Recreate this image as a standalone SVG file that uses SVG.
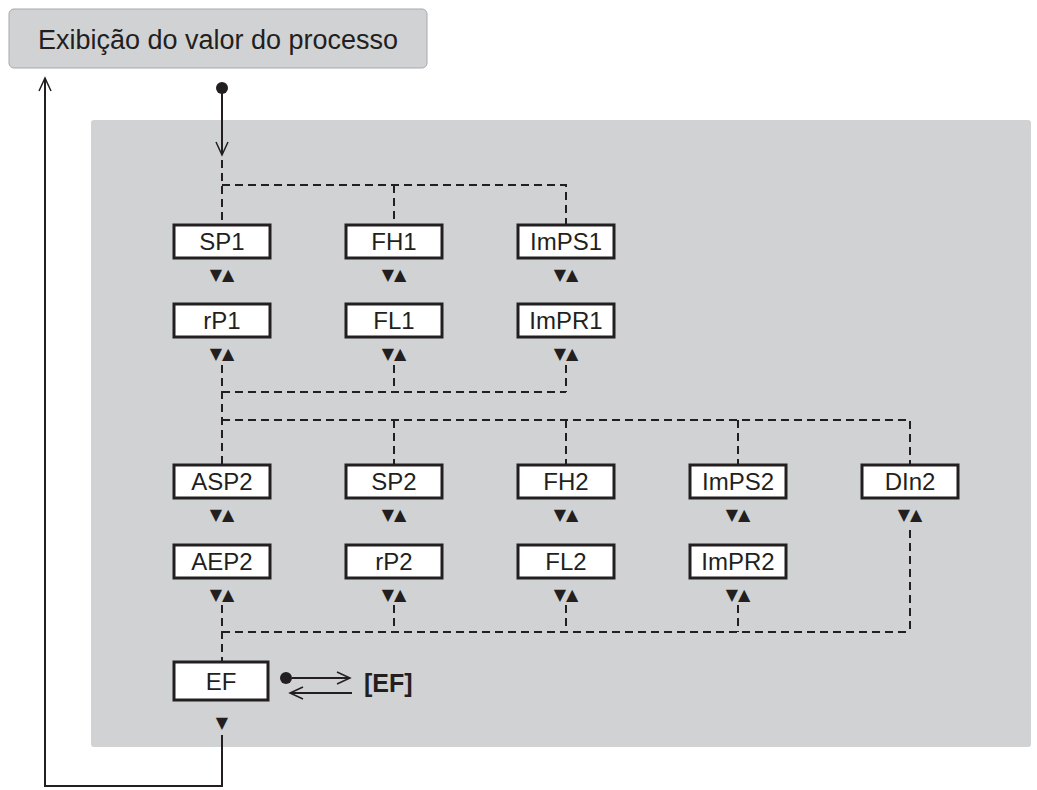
<svg xmlns="http://www.w3.org/2000/svg" width="1037" height="790" viewBox="0 0 1037 790">
<style>
.b{fill:#fff;stroke:#231f20;stroke-width:3}
.t{font-family:"Liberation Sans",Arial,sans-serif;font-size:24px;fill:#231f20;text-anchor:middle}
.d{fill:none;stroke:#231f20;stroke-width:2;stroke-dasharray:8,5}
.s{fill:none;stroke:#231f20;stroke-width:2}
.a{font-family:"DejaVu Sans",sans-serif;font-size:16px;fill:#231f20;text-anchor:middle}
</style>
<defs>
<marker id="o" markerWidth="16" markerHeight="14" refX="14" refY="7" orient="auto" markerUnits="userSpaceOnUse"><path d="M1,1 L14,7 L1,13" fill="none" stroke="#231f20" stroke-width="1.5"/></marker>
</defs>
<rect x="9" y="9" width="418" height="59" rx="5" fill="#d1d2d4" stroke="#a7a9ac"/>
<text x="218" y="49" class="t" style="font-size:27px">Exibição do valor do processo</text>
<rect x="91" y="120" width="940" height="627" rx="3" fill="#d1d2d4"/>
<g id="connectors">
<circle cx="222" cy="88" r="6" fill="#231f20"/>
<line x1="222" y1="92" x2="222" y2="155" class="s" marker-end="url(#o)"/>
<path d="M222,160 V225 M222,185 H566 V225 M394,185 V225" class="d"/>
<path d="M222,365 V465 M394,365 V392 M566,365 V392 M222,392 H566 M222,420 H910 V465 M394,420 V465 M566,420 V465 M738,420 V465" class="d"/>
<path d="M222,605 V662 M394,605 V632 M566,605 V632 M738,605 V632 M910,530 V632 M222,632 H910" class="d"/>
<path d="M222,735 V786 H45 V78" class="s" marker-end="url(#o)"/>
<circle cx="286" cy="678" r="6" fill="#231f20"/>
<line x1="292" y1="678" x2="350" y2="678" class="s" marker-end="url(#o)"/>
<line x1="352" y1="693" x2="290" y2="693" class="s" marker-end="url(#o)"/>
</g>
<text x="364" y="692" style="font-family:'Liberation Sans',Arial,sans-serif;font-size:25px;font-weight:bold;fill:#231f20">[EF]</text>
<g id="arrows" class="a">
<text x="222" y="280">▼▲</text><text x="394" y="280">▼▲</text><text x="566" y="280">▼▲</text>
<text x="222" y="359">▼▲</text><text x="394" y="359">▼▲</text><text x="566" y="359">▼▲</text>
<text x="222" y="520">▼▲</text><text x="394" y="520">▼▲</text><text x="566" y="520">▼▲</text><text x="738" y="520">▼▲</text><text x="910" y="520">▼▲</text>
<text x="222" y="600">▼▲</text><text x="394" y="600">▼▲</text><text x="566" y="600">▼▲</text><text x="738" y="600">▼▲</text>
<text x="222" y="728">▼</text>
</g>
<g id="SP1"><rect x="174" y="225" width="96" height="33" class="b"/><text x="222" y="250" class="t">SP1</text></g>
<g id="FH1"><rect x="346" y="225" width="96" height="33" class="b"/><text x="394" y="250" class="t">FH1</text></g>
<g id="ImPS1"><rect x="518" y="225" width="96" height="33" class="b"/><text x="566" y="250" class="t">ImPS1</text></g>
<g id="rP1"><rect x="174" y="304" width="96" height="33" class="b"/><text x="222" y="329" class="t">rP1</text></g>
<g id="FL1"><rect x="346" y="304" width="96" height="33" class="b"/><text x="394" y="329" class="t">FL1</text></g>
<g id="ImPR1"><rect x="518" y="304" width="96" height="33" class="b"/><text x="566" y="329" class="t">ImPR1</text></g>
<g id="ASP2"><rect x="174" y="465" width="96" height="33" class="b"/><text x="222" y="490" class="t">ASP2</text></g>
<g id="SP2"><rect x="346" y="465" width="96" height="33" class="b"/><text x="394" y="490" class="t">SP2</text></g>
<g id="FH2"><rect x="518" y="465" width="96" height="33" class="b"/><text x="566" y="490" class="t">FH2</text></g>
<g id="ImPS2"><rect x="690" y="465" width="96" height="33" class="b"/><text x="738" y="490" class="t">ImPS2</text></g>
<g id="DIn2"><rect x="862" y="465" width="96" height="33" class="b"/><text x="910" y="490" class="t">DIn2</text></g>
<g id="AEP2"><rect x="174" y="545" width="96" height="33" class="b"/><text x="222" y="570" class="t">AEP2</text></g>
<g id="rP2"><rect x="346" y="545" width="96" height="33" class="b"/><text x="394" y="570" class="t">rP2</text></g>
<g id="FL2"><rect x="518" y="545" width="96" height="33" class="b"/><text x="566" y="570" class="t">FL2</text></g>
<g id="ImPR2"><rect x="690" y="545" width="96" height="33" class="b"/><text x="738" y="570" class="t">ImPR2</text></g>
<g id="EF"><rect x="174" y="662" width="94" height="38" class="b"/><text x="221" y="690" class="t">EF</text></g>
</svg>
